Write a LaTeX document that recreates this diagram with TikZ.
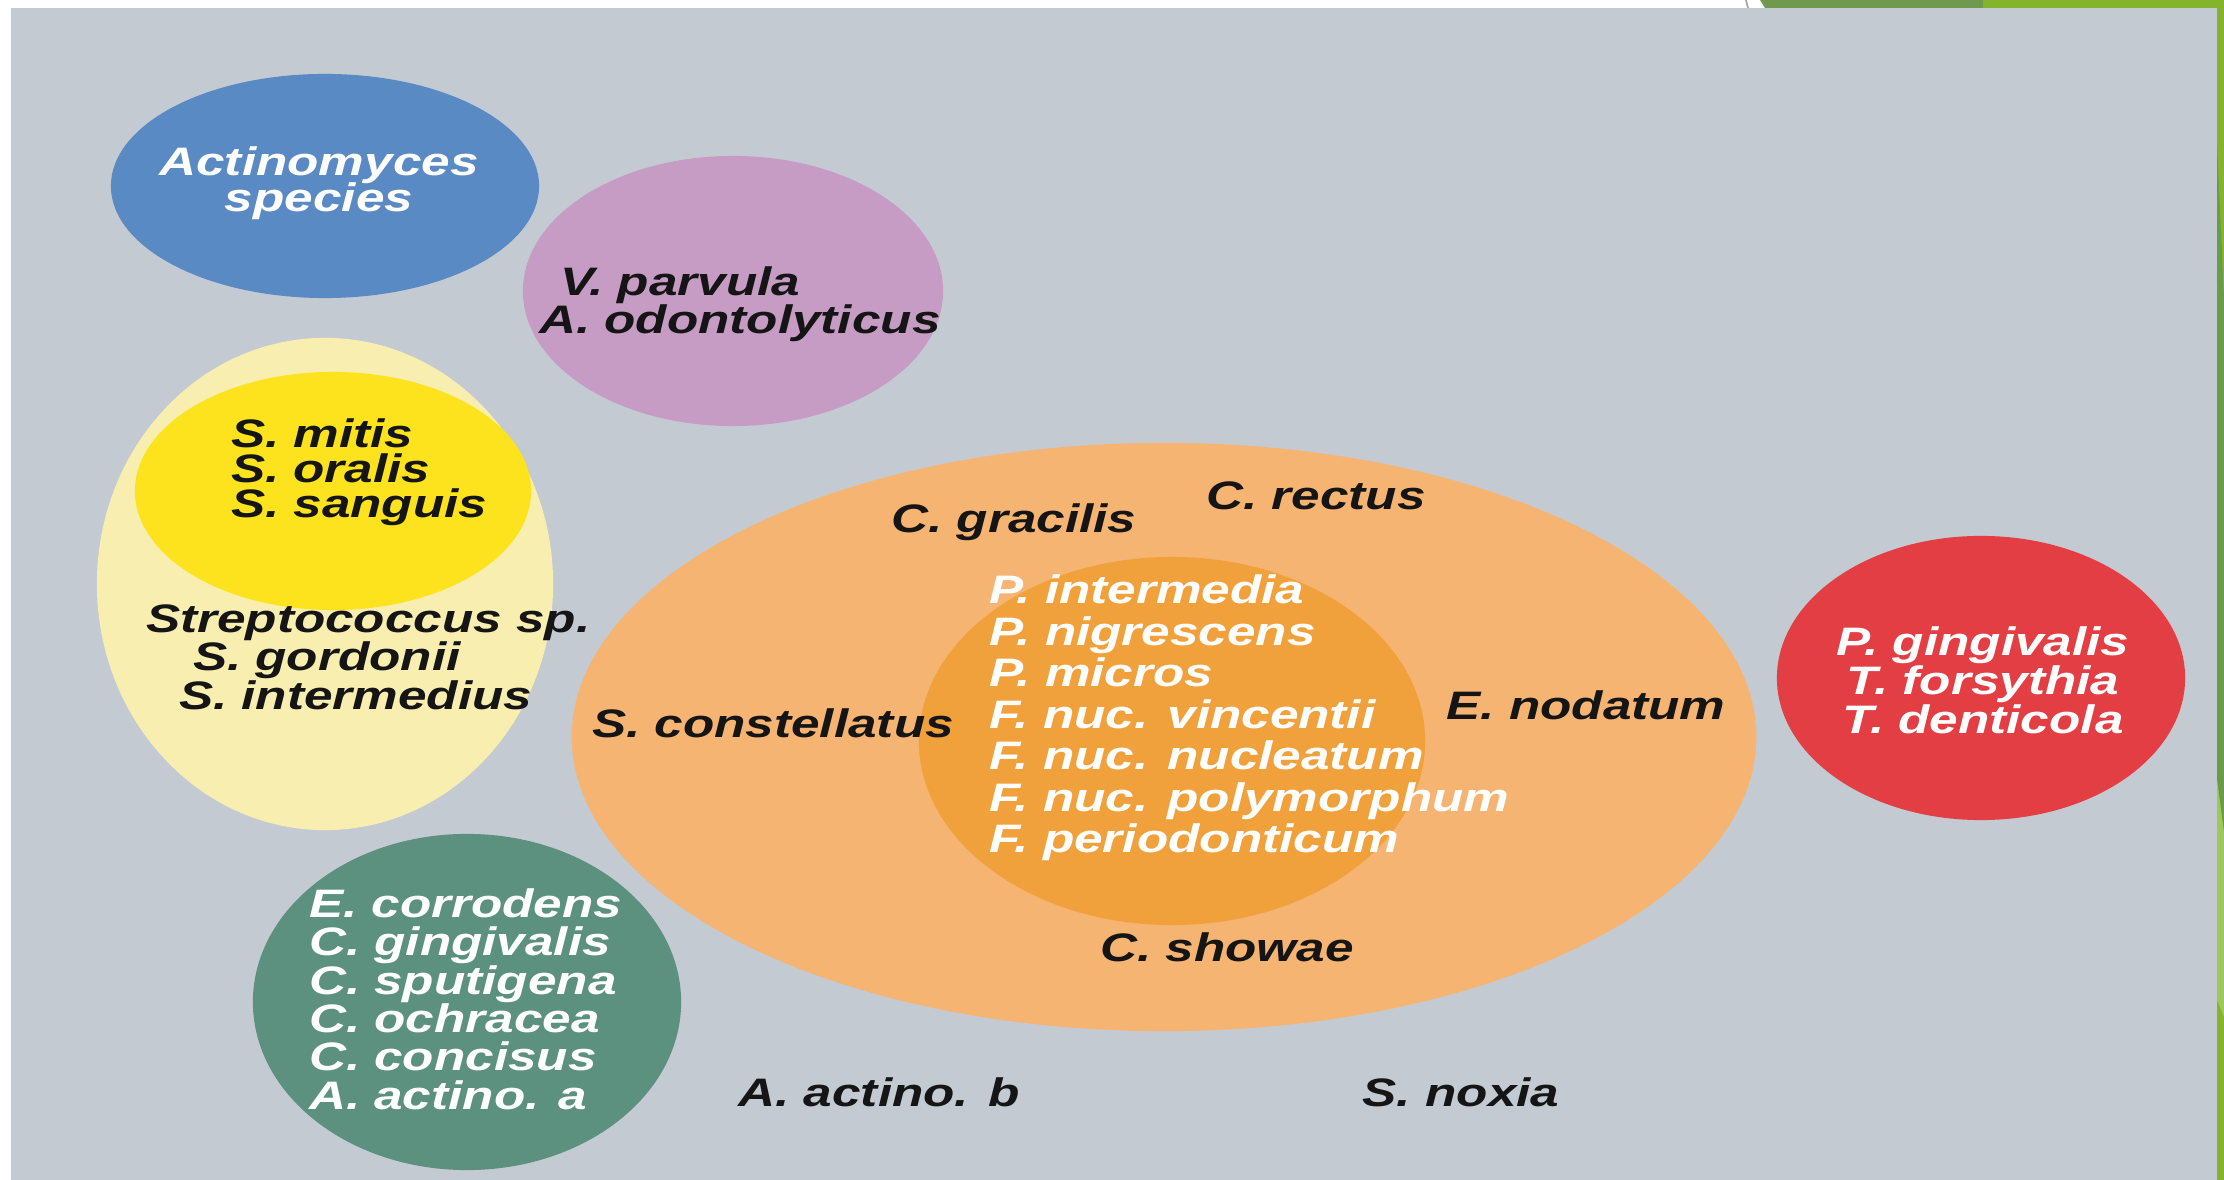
\documentclass[tikz,border=0pt]{standalone}
\usepackage{fontspec}
\setmainfont{Liberation Sans}[FakeStretch=1.29]
\usetikzlibrary{shapes.geometric}
\definecolor{panel}{HTML}{C4CAD2}
\definecolor{cblue}{HTML}{5A8AC4}
\definecolor{cpurple}{HTML}{C69CC4}
\definecolor{cpale}{HTML}{F7EEB0}
\definecolor{cyellow}{HTML}{FCE31E}
\definecolor{corange}{HTML}{F6B473}
\definecolor{cdorange}{HTML}{F0A13C}
\definecolor{cgreen}{HTML}{5C907F}
\definecolor{cred}{HTML}{E33E44}
\definecolor{ctext}{HTML}{151515}
\definecolor{gdark}{HTML}{6A9B48}
\definecolor{golive}{HTML}{70994F}
\definecolor{glight}{HTML}{84B42C}
\definecolor{gpale}{HTML}{9CC95B}
\begin{document}
\setlength{\lineskiplimit}{-30pt}
\begin{tikzpicture}[x=0.01cm,y=-0.01cm,
  blob/.style={ellipse, draw=none, inner sep=0pt, outer sep=0pt},
  lbl/.style={inner sep=0pt, outer sep=0pt},
  fs/.style={font=\fontsize{11.3pt}{#1}\selectfont\bfseries\itshape},
  btxt/.style={lbl, text=ctext},
  wtxt/.style={lbl, text=white}]
\useasboundingbox (0,0) rectangle (2224,1180);
\fill[white] (0,0) rectangle (2224,1180);
% panel and frame decorations
\fill[panel] (11,8) rectangle (2217,1180);
\fill[golive] (1760,0) -- (1985,0) -- (1985,8) -- (1765,8) -- cycle;
\fill[glight] (1983,0) rectangle (2224,8);
\fill[glight] (2217,0) rectangle (2224,1180);
\fill[gdark] (2217,143) -- (2224,300) -- (2224,833) -- (2217,780) -- cycle;
\fill[gpale] (2217,780) -- (2224,833) -- (2224,1017) -- (2217,1000) -- cycle;
\draw[gray!70, line width=0.5pt] (1746,0) -- (1748,8);
% ellipses
\node[blob, fill=cpale, minimum width=4.56cm, minimum height=4.92cm] (pale) at (325,584) {};
\node[blob, fill=cyellow, minimum width=3.96cm, minimum height=2.38cm] (yellow) at (333,491) {};
\node[blob, fill=cpurple, minimum width=4.20cm, minimum height=2.70cm] (purple) at (733,291) {};
\node[blob, fill=cblue, minimum width=4.28cm, minimum height=2.24cm] (blue) at (325,186) {};
\node[blob, fill=corange, minimum width=11.84cm, minimum height=5.88cm] (orange) at (1164,737) {};
\node[blob, fill=cdorange, minimum width=5.06cm, minimum height=3.68cm] (dorange) at (1172,741) {};
\node[blob, fill=cgreen, minimum width=4.28cm, minimum height=3.36cm] (green) at (467,1002) {};
\node[blob, fill=cred, minimum width=4.08cm, minimum height=2.84cm] (red) at (1981,678) {};
% texts
\node[wtxt, fs=10.2pt, align=center] (tactino) at (319,183) {Actinomyces\\species};
\node[btxt, fs=10.8pt, align=left, anchor=west] (tpurple) at (539,304) {\hspace*{0.21cm}V. parvula\\A. odontolyticus};
\node[btxt, fs=9.96pt, align=left, anchor=west] (tyellow) at (231,472) {S. mitis\\S. oralis\\S. sanguis};
\node[btxt, fs=10.95pt, align=left, anchor=west] (tstrep) at (146,657) {Streptococcus sp.\\\hspace*{0.47cm}S. gordonii\\\hspace*{0.33cm}S. intermedius};
\node[btxt, fs=10pt] (tgracilis) at (1014,522) {C. gracilis};
\node[btxt, fs=10pt] (trectus) at (1316,496) {C. rectus};
\node[btxt, fs=10pt] (tconst) at (773,723) {S. constellatus};
\node[btxt, fs=10pt] (tnodatum) at (1586,705) {E. nodatum};
\node[btxt, fs=10pt] (tshowae) at (1227,947) {C. showae};
\node[wtxt, fs=11.8pt, align=left, anchor=west] (tinner) at (989,718) {P. intermedia\\P. nigrescens\\P. micros\\F. nuc. vincentii\\F. nuc. nucleatum\\F. nuc. polymorphum\\F. periodonticum};
\node[wtxt, fs=10.9pt, align=left, anchor=west] (tgreen) at (309,999) {E. corrodens\\C. gingivalis\\C. sputigena\\C. ochracea\\C. concisus\\A. actino. a};
\node[wtxt, fs=11.1pt, align=center] (tred) at (1983,680) {P. gingivalis\\T. forsythia\\T. denticola};
\node[btxt, fs=10pt] (tactinob) at (879,1092) {A. actino. b};
\node[btxt, fs=10pt] (tnoxia) at (1461,1092) {S. noxia};
\end{tikzpicture}
\end{document}
